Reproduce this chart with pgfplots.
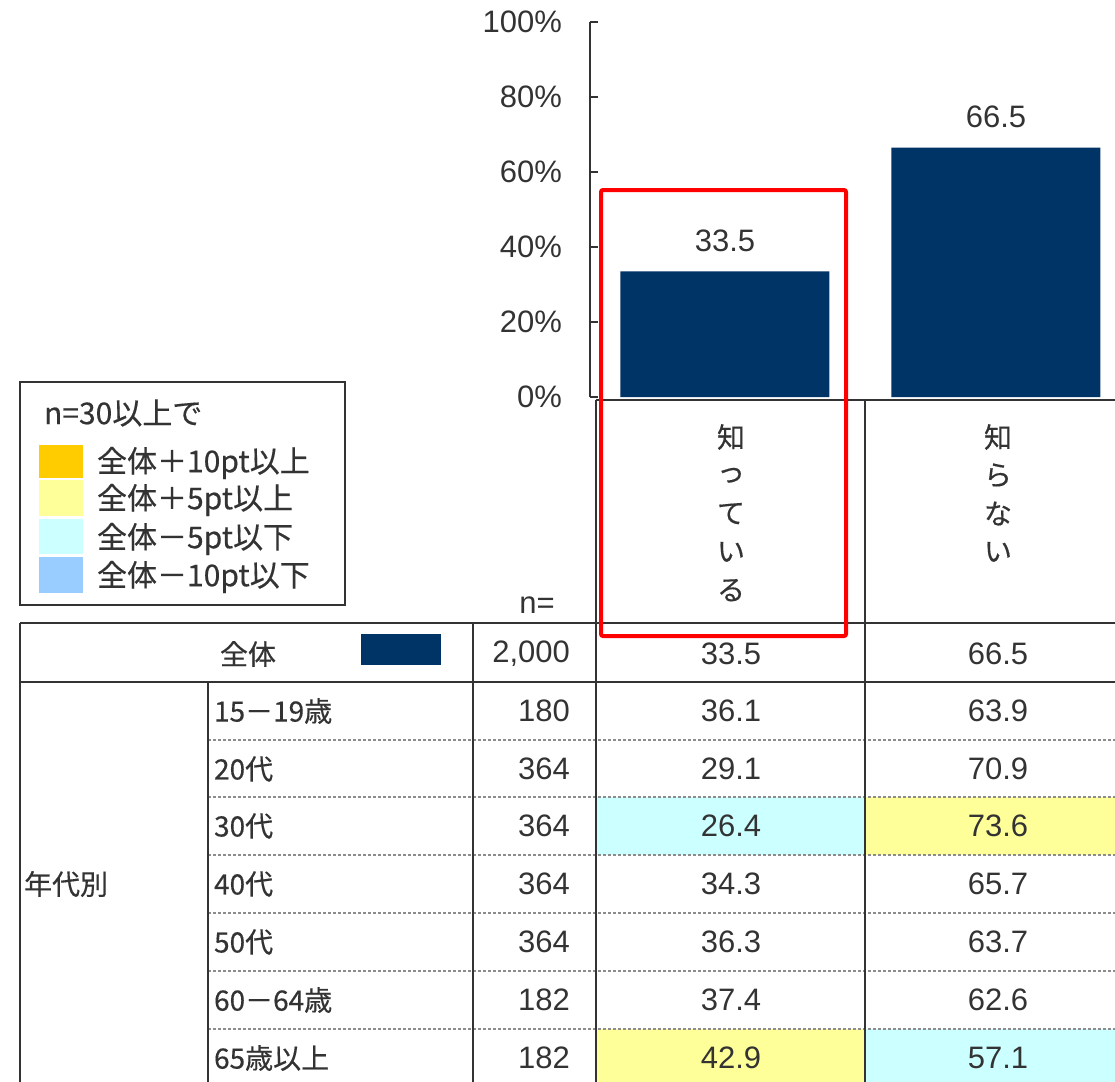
\documentclass[border=0pt]{standalone}
\usepackage{fontspec}
\setmainfont{Liberation Sans}
\newfontfamily\jp[FakeBold=0.4]{Noto Sans CJK JP}
\usepackage{pgfplots}
\pgfplotsset{compat=1.18}
\definecolor{navy}{HTML}{003366}
\definecolor{txt}{HTML}{333333}
\definecolor{lineg}{HTML}{333333}
\definecolor{cyanc}{HTML}{CCFFFF}
\definecolor{yelc}{HTML}{FFFF99}
\definecolor{orc}{HTML}{FFCC00}
\definecolor{bluc}{HTML}{99CCFF}
\newcommand{\numf}{\fontsize{15.5}{18}\selectfont}
\newcommand{\jpf}{\jp\fontsize{14}{17}\selectfont}
\newcommand{\jpl}{\jp\fontsize{15}{18}\selectfont}
\begin{document}
\begin{tikzpicture}[x=0.5pt,y=-0.5pt]
\path[use as bounding box] (0,0) rectangle (1115,1082);
% highlighted cells
\fill[cyanc] (596,797) rectangle (865,855);
\fill[yelc] (865,797) rectangle (1131,855);
\fill[yelc] (596,1029) rectangle (865,1090);
\fill[cyanc] (865,1029) rectangle (1131,1090);
% dashed row separators
\foreach \yy in {740,797,855,913,971,1029}{
  \draw[black!45, line width=0.6pt, dash pattern=on 1.5pt off 1pt] (208,\yy) -- (1131,\yy);
}
% solid table lines
\begin{scope}[draw=lineg, line width=1pt]
\draw (596,400) -- (1131,400);
\draw (20,623) -- (1131,623);
\draw (20,682) -- (1131,682);
\draw (20,623) -- (20,1090);
\draw (208,682) -- (208,1090);
\draw (473,623) -- (473,1090);
\draw (596,400) -- (596,1090);
\draw (865,400) -- (865,1090);
\end{scope}
% header texts
\foreach \ch [count=\i from 0] in {知,っ,て,い,る}{
  \node[font=\jpf, text=txt] at (731,437+38.3*\i) {\ch};
}
\foreach \ch [count=\i from 0] in {知,ら,な,い}{
  \node[font=\jpf, text=txt] at (998,437+38.3*\i) {\ch};
}
\node[font=\numf, text=txt] at (537,605) {n=};
% total row
\node[font=\jpf, text=txt] at (248,654) {全体};
\fill[navy] (361,634) rectangle (441,665);
\node[font=\numf, text=txt, anchor=east] at (577,654) {2,000};
\node[font=\numf, text=txt] at (731,654) {33.5};
\node[font=\numf, text=txt] at (998,654) {66.5};
% age rows
\node[font=\jpf, text=txt, anchor=west] at (17,884) {年代別};
\foreach \lab/\n/\a/\b/\yy in {
  15－19歳/180/36.1/63.9/711,
  20代/364/29.1/70.9/769,
  30代/364/26.4/73.6/826,
  40代/364/34.3/65.7/884,
  50代/364/36.3/63.7/942,
  60－64歳/182/37.4/62.6/1000,
  65歳以上/182/42.9/57.1/1058}{
  \node[font=\jpf, text=txt, anchor=west] at (207,\yy) {\lab};
  \node[font=\numf, text=txt, anchor=east] at (577,\yy) {\n};
  \node[font=\numf, text=txt] at (731,\yy) {\a};
  \node[font=\numf, text=txt] at (998,\yy) {\b};
}
% legend box
\draw[lineg, line width=1pt] (20,382) rectangle (345,605);
\node[font=\jpl, text=txt, anchor=west] at (37,413) {n=30以上で};
\fill[orc] (39,445) rectangle (83,478);
\fill[yelc] (39,480) rectangle (83,516);
\fill[cyanc] (39,519) rectangle (83,554);
\fill[bluc] (39,557) rectangle (83,593);
\node[font=\jpl, text=txt, anchor=west] at (90,463) {全体＋10pt以上};
\node[font=\jpl, text=txt, anchor=west] at (90,500) {全体＋5pt以上};
\node[font=\jpl, text=txt, anchor=west] at (90,539) {全体－5pt以下};
\node[font=\jpl, text=txt, anchor=west] at (90,577) {全体－10pt以下};
% chart
\begin{axis}[
  at={(295pt,-198.5pt)}, anchor=south west,
  scale only axis, width=270.75pt, height=187.5pt,
  xmin=-0.498, xmax=1.5, ymin=0, ymax=100,
  axis x line=none, axis y line=left,
  line width=1.4pt,
  axis line style={-, draw=lineg, line width=1.4pt},
  every outer y axis line/.append style={-, draw=lineg, line width=1.4pt},
  xtick=\empty,
  ytick={0,20,40,60,80,100},
  yticklabel={\pgfmathprintnumber{\tick}\%},
  tick align=inside, major tick length=4pt,
  every tick/.append style={draw=lineg, line width=1.4pt},
  yticklabel style={font=\numf, text=txt, xshift=-10pt},
  /pgf/number format/assume math mode=true,
  ybar, bar width=104.5pt,
  nodes near coords,
  nodes near coords style={font=\numf, text=txt, yshift=6pt},
]
\addplot[fill=navy, draw=none] coordinates {(0,33.5) (1,66.5)};
\draw[lineg, line width=1.4pt] (rel axis cs:0,0) -- (rel axis cs:0,1);
\end{axis}
% red highlight rectangle
\draw[red, line width=2pt, rounded corners=1pt] (601,190) rectangle (846,636);
\end{tikzpicture}
\end{document}
